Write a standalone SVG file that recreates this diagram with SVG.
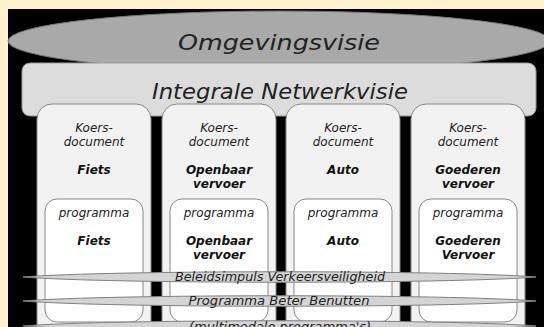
<svg xmlns="http://www.w3.org/2000/svg" width="544" height="327" viewBox="0 0 544 327">
<style>
  .t { font-family: "DejaVu Sans", Verdana, sans-serif; font-style: italic; fill: #222; text-anchor: middle; }
  .b { font-weight: bold; fill: #111; }
  .col { fill: #f2f2f2; stroke: #888; stroke-width: 1; }
  .prog { fill: #ffffff; stroke: #888; stroke-width: 1; }
  .band { fill: #d4d4d4; stroke: #808080; stroke-width: 1; }
</style>
<rect x="0" y="0" width="544" height="327" fill="#FFF2CC"/>
<rect x="8" y="9" width="536" height="318" fill="#000"/>

<g id="omgevingsvisie">
  <ellipse cx="279" cy="41" rx="271" ry="30" fill="#a9a9a9" stroke="#777"/>
  <text class="t" x="279" y="50" font-size="21" textLength="202" lengthAdjust="spacingAndGlyphs">Omgevingsvisie</text>
</g>

<g id="netwerkvisie">
  <rect x="22" y="63" width="514" height="53" rx="8" fill="#dcdcdc" stroke="#999"/>
  <text class="t" x="280" y="99" font-size="21" textLength="256" lengthAdjust="spacingAndGlyphs">Integrale Netwerkvisie</text>
</g>

<g id="koers-fiets">
  <rect class="col" x="37" y="104" width="114" height="240" rx="15"/>
  <text class="t" x="94" y="132" font-size="12">Koers-</text>
  <text class="t" x="94" y="146" font-size="12">document</text>
  <text class="t b" x="94" y="174" font-size="12">Fiets</text>
</g>
<g id="koers-ov">
  <rect class="col" x="162" y="104" width="114" height="240" rx="15"/>
  <text class="t" x="219" y="132" font-size="12">Koers-</text>
  <text class="t" x="219" y="146" font-size="12">document</text>
  <text class="t b" x="219" y="174" font-size="12">Openbaar</text>
  <text class="t b" x="219" y="188" font-size="12">vervoer</text>
</g>
<g id="koers-auto">
  <rect class="col" x="286" y="104" width="114" height="240" rx="15"/>
  <text class="t" x="343" y="132" font-size="12">Koers-</text>
  <text class="t" x="343" y="146" font-size="12">document</text>
  <text class="t b" x="343" y="174" font-size="12">Auto</text>
</g>
<g id="koers-goederen">
  <rect class="col" x="411" y="104" width="114" height="240" rx="15"/>
  <text class="t" x="468" y="132" font-size="12">Koers-</text>
  <text class="t" x="468" y="146" font-size="12">document</text>
  <text class="t b" x="468" y="174" font-size="12">Goederen</text>
  <text class="t b" x="468" y="188" font-size="12">vervoer</text>
</g>

<g id="programma-fiets">
  <rect class="prog" x="45" y="199" width="98" height="123" rx="12"/>
  <text class="t" x="94" y="217" font-size="12">programma</text>
  <text class="t b" x="94" y="245" font-size="12">Fiets</text>
</g>
<g id="programma-ov">
  <rect class="prog" x="170" y="199" width="98" height="123" rx="12"/>
  <text class="t" x="219" y="217" font-size="12">programma</text>
  <text class="t b" x="219" y="245" font-size="12">Openbaar</text>
  <text class="t b" x="219" y="259" font-size="12">vervoer</text>
</g>
<g id="programma-auto">
  <rect class="prog" x="294" y="199" width="98" height="123" rx="12"/>
  <text class="t" x="343" y="217" font-size="12">programma</text>
  <text class="t b" x="343" y="245" font-size="12">Auto</text>
</g>
<g id="programma-goederen">
  <rect class="prog" x="419" y="199" width="98" height="123" rx="12"/>
  <text class="t" x="468" y="217" font-size="12">programma</text>
  <text class="t b" x="468" y="245" font-size="12">Goederen</text>
  <text class="t b" x="468" y="259" font-size="12">Vervoer</text>
</g>

<g id="band-verkeersveiligheid">
  <path class="band" d="M23,277 C110,270 450,270 536,277 C450,284 110,284 23,277 Z"/>
  <text class="t" x="280" y="281" font-size="12" textLength="210" lengthAdjust="spacingAndGlyphs">Beleidsimpuls Verkeersveiligheid</text>
</g>
<g id="band-beter-benutten">
  <path class="band" d="M23,301 C110,294 450,294 536,301 C450,308 110,308 23,301 Z"/>
  <text class="t" x="279" y="305" font-size="12" textLength="181" lengthAdjust="spacingAndGlyphs">Programma Beter Benutten</text>
</g>
<g id="band-multimodaal">
  <path class="band" d="M23,326 C110,319 450,319 536,326 C450,333 110,333 23,326 Z"/>
  <text class="t" x="280" y="331" font-size="12" textLength="182" lengthAdjust="spacingAndGlyphs">(multimodale programma's)</text>
</g>
</svg>
